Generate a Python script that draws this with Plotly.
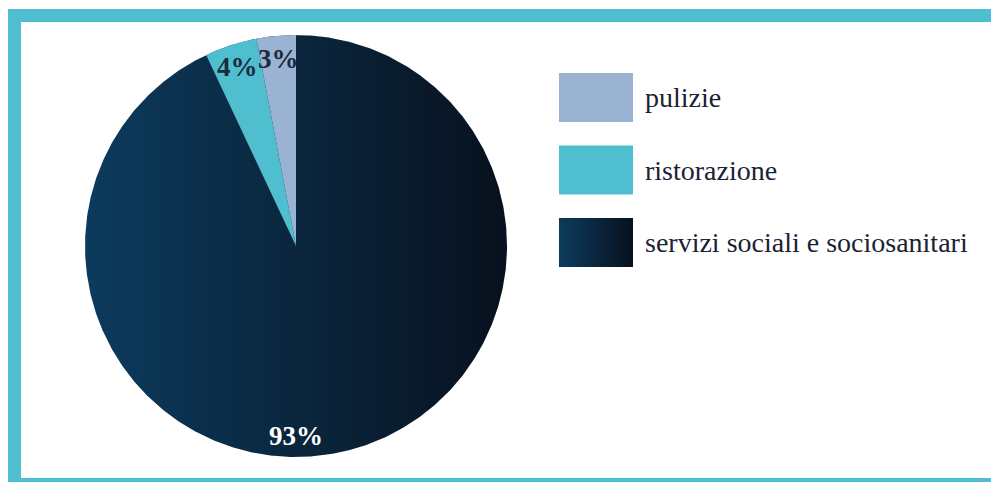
import numpy as np
import plotly.graph_objects as go

# ---- data ----
labels = ["pulizie", "ristorazione", "servizi sociali e sociosanitari"]
values = [3, 4, 93]
pct_text = ["3%", "4%", "93%"]
slice_colors = ["#9ab3d3", "#4fbfcf", "gradient"]
gradient_stops = ["#0c3b5d", "#08111e"]
label_colors = ["#1b2a3d", "#1b2a3d", "#ffffff"]

W, H = 991, 482
FONT = "Liberation Serif"
FRAME = "#4fbfcf"

# pie placement (pixels)
cx, cy, R = 296, 246, 211
dom_x = [(cx - R) / W, (cx + R) / W]
dom_y = [1 - (cy + R) / H, 1 - (cy - R) / H]

fig = go.Figure()

# gradient disk underneath the pie (shows through the gradient slice)
t = np.linspace(0, 2 * np.pi, 721)
fig.add_trace(go.Scatter(
    x=np.cos(t), y=np.sin(t), mode="lines", fill="toself",
    line=dict(width=0, color="rgba(0,0,0,0)"),
    fillgradient=dict(type="horizontal",
                      colorscale=[[0, gradient_stops[0]], [1, gradient_stops[1]]]),
    hoverinfo="skip", showlegend=False, xaxis="x", yaxis="y"))

total = sum(values)
pie_colors = ["rgba(0,0,0,0)" if c == "gradient" else c for c in slice_colors]
fig.add_trace(go.Pie(
    labels=labels, values=values, sort=False, direction="counterclockwise",
    rotation=-values[0] / total * 360,
    marker=dict(colors=pie_colors, line=dict(width=0)),
    textinfo="none", hoverinfo="label+percent", showlegend=False,
    domain=dict(x=dom_x, y=dom_y)))

# percentage labels
cum = 0
annotations = []
for v, txt, col in zip(values, pct_text, label_colors):
    mid = (cum + v / 2) / total * 360
    cum += v
    ang = mid if v / total < 0.5 else 180
    r = 0.895
    a = np.radians(ang)
    annotations.append(dict(
        x=-r * np.sin(a), y=r * np.cos(a), xref="x", yref="y",
        text=txt, showarrow=False, xanchor="center", yanchor="middle", yshift=-1,
        font=dict(family=FONT, size=27, color=col, weight="bold")))

# custom legend (pixel coordinates on an auxiliary axis pair)
sw_x0, sw_w, sw_h, sw_top, sw_gap = 559, 74, 49, 73, 72.5
for i, (lab, c) in enumerate(zip(labels, slice_colors)):
    y0 = sw_top + i * sw_gap
    xs = [sw_x0, sw_x0 + sw_w, sw_x0 + sw_w, sw_x0, sw_x0]
    ys = [y0, y0, y0 + sw_h, y0 + sw_h, y0]
    kw = {}
    if c == "gradient":
        kw["fillgradient"] = dict(type="horizontal",
                                  colorscale=[[0, gradient_stops[0]], [1, gradient_stops[1]]])
    else:
        kw["fillcolor"] = c
    fig.add_trace(go.Scatter(
        x=xs, y=ys, mode="lines", fill="toself",
        line=dict(width=0, color="rgba(0,0,0,0)"),
        hoverinfo="skip", showlegend=False, xaxis="x2", yaxis="y2", **kw))
    annotations.append(dict(
        x=643, y=y0 + sw_h / 2, xref="x2", yref="y2", text=lab,
        showarrow=False, xanchor="left", yanchor="middle",
        font=dict(family=FONT, size=28, color="#1a2233")))

# frame: top, left and bottom sides (right side lies outside the view)
fl, ft, fb, fr = 14.5, 15.5, 484.5, W + 2
frame_path = f"M {fr},{ft} L {fl},{ft} L {fl},{fb} L {fr},{fb}"

fig.update_layout(
    width=W, height=H, autosize=False,
    margin=dict(l=0, r=0, t=0, b=0, pad=0),
    paper_bgcolor="white", plot_bgcolor="rgba(0,0,0,0)",
    xaxis=dict(domain=dom_x, range=[-1, 1], visible=False, fixedrange=True),
    yaxis=dict(domain=dom_y, range=[-1, 1], visible=False, fixedrange=True),
    xaxis2=dict(domain=[0, 1], range=[0, W], visible=False, anchor="y2",
                fixedrange=True),
    yaxis2=dict(domain=[0, 1], range=[H, 0], visible=False, anchor="x2",
                fixedrange=True),
    annotations=annotations,
    shapes=[dict(type="path", xref="x2", yref="y2", path=frame_path,
                 line=dict(color=FRAME, width=13), layer="below")],
)

# remove the default page margin so the 991x482 figure fills the window exactly
fig.write_html("out.html",
               config={"displayModeBar": False},
               post_script="document.body.style.margin='0';"
                           "document.body.style.overflow='hidden';")
